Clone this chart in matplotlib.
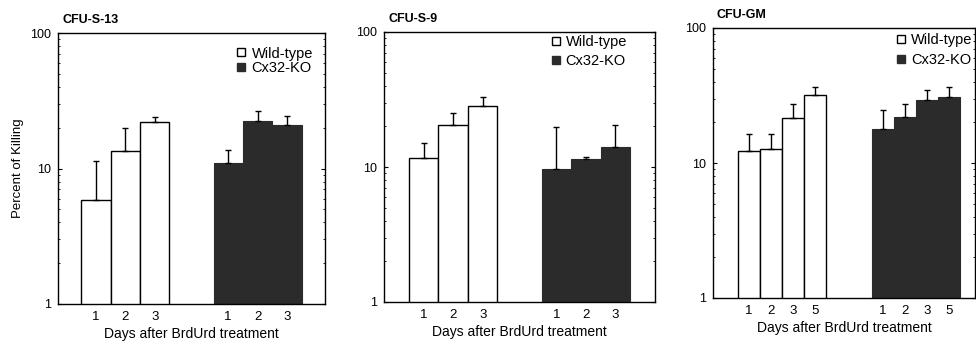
import matplotlib.pyplot as plt
from matplotlib.lines import Line2D

plt.rcParams['font.family'] = ['Liberation Sans', 'DejaVu Sans']

# Datos (porcentaje de muerte, escala log)
titulos = ['CFU-S-13', 'CFU-S-9', 'CFU-GM']
dias = [['1', '2', '3'], ['1', '2', '3'], ['1', '2', '3', '5']]

wt_valores = [[5.9, 13.5, 22.2], [11.6, 20.5, 28.5], [12.2, 12.8, 21.5, 32.1]]
wt_error = [[5.5, 6.5, 1.9], [3.4, 4.7, 4.7], [4.2, 3.7, 5.9, 4.2]]
ko_valores = [[11.0, 22.4, 21.0], [9.7, 11.5, 14.1], [17.9, 22.1, 29.4, 30.6]]
ko_error = [[2.8, 4.2, 3.4], [10.0, 0.4, 6.4], [6.9, 5.4, 5.1, 6.0]]

# Posición de cada panel en píxeles: (izq, arriba, ancho, alto)
paneles = [(58, 33, 267, 271), (384, 32, 271, 270), (713, 28, 262, 270)]
huecos = [4.5, 4.5, 6.1]
limites = [(-1.3, 7.8), (-1.35, 7.85), (-1.65, 10.3)]
# Ubicación de la leyenda (esquina sup. derecha, fracción de ejes) y espaciado
leyenda_pos = [(0.955, 0.95), (0.897, 0.99), (0.99, 0.98)]
leyenda_esp = [0.05, 0.35, 0.4]

W, H = 976, 341
fig = plt.figure(figsize=(W / 100, H / 100), dpi=100)
color_ko = '#2b2b2b'

for i in range(3):
    x0, y0, w, h = paneles[i]
    ax = fig.add_axes([x0 / W, 1 - (y0 + h) / H, w / W, h / H])
    n = len(dias[i])
    pos_wt = list(range(n))
    pos_ko = [huecos[i] + k for k in range(n)]

    ax.bar(pos_wt, wt_valores[i], width=1.0, color='white', edgecolor='black', linewidth=1.0)
    ax.bar(pos_ko, ko_valores[i], width=1.0, color=color_ko, edgecolor=color_ko, linewidth=0.8)
    ax.errorbar(pos_wt, wt_valores[i], yerr=[[0] * n, wt_error[i]], fmt='none',
                ecolor='black', elinewidth=1.0, capsize=2, capthick=1.0)
    ax.errorbar(pos_ko, ko_valores[i], yerr=[[0] * n, ko_error[i]], fmt='none',
                ecolor='black', elinewidth=1.0, capsize=2, capthick=1.0)

    ax.set_yscale('log')
    ax.set_ylim(1, 100)
    ax.set_xlim(*limites[i])
    ax.set_yticks([1, 10, 100])
    ax.set_yticklabels(['1', '10', '100'])
    ax.set_xticks(pos_wt + pos_ko)
    ax.set_xticklabels(dias[i] * 2)
    ax.tick_params(axis='x', length=0, pad=5, labelsize=9.5)
    ax.tick_params(axis='y', which='major', direction='in', length=3, right=True, labelsize=9, pad=5)
    ax.tick_params(axis='y', which='minor', direction='in', length=1.5, right=True)
    for s in ax.spines.values():
        s.set_linewidth(1.0)

    ax.set_xlabel('Days after BrdUrd treatment', fontsize=10, labelpad=3)
    ax.text(0.015, 1.025, titulos[i], transform=ax.transAxes, fontsize=9,
            fontweight='bold', ha='left', va='bottom')
    if i == 0:
        ax.set_ylabel('Percent of Killing', fontsize=9.5, labelpad=4)

    handles = [
        Line2D([], [], marker='s', linestyle='none', markersize=6,
               markerfacecolor='white', markeredgecolor='black', markeredgewidth=1.0),
        Line2D([], [], marker='s', linestyle='none', markersize=6,
               markerfacecolor=color_ko, markeredgecolor=color_ko),
    ]
    ax.legend(handles, ['Wild-type', 'Cx32-KO'], loc='upper right', frameon=False,
              bbox_to_anchor=leyenda_pos[i], borderaxespad=0, borderpad=0,
              fontsize=10.5, handletextpad=0.3, handlelength=0.8,
              labelspacing=leyenda_esp[i])

fig.savefig('out.png', dpi=100)
